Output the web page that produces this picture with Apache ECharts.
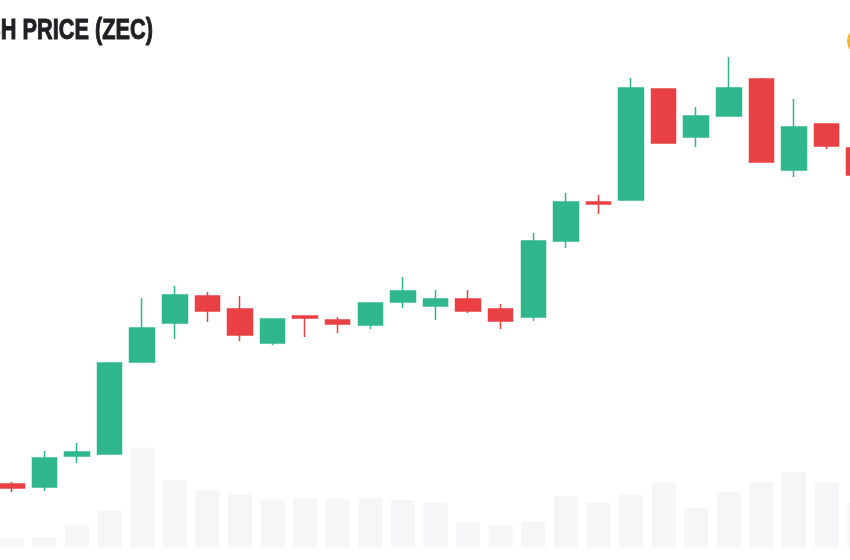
<!DOCTYPE html>
<html lang="en">
<head>
    <meta charset="UTF-8">
    <title>Zcash price (ZEC)</title>
    <script src="https://cdn.jsdelivr.net/npm/echarts@6/dist/echarts.min.js"></script>
</head>
<style>
    html, body { margin: 0; padding: 0; background: #fff; overflow: hidden; }
    #container { width: 850px; height: 560px; }
</style>
<body>
<div id="container"></div>
<script>
    // values are in the picture's own units, the price scale is not shown
    var days = ['D1', 'D2', 'D3', 'D4', 'D5', 'D6', 'D7', 'D8', 'D9', 'D10', 'D11', 'D12', 'D13', 'D14',
        'D15', 'D16', 'D17', 'D18', 'D19', 'D20', 'D21', 'D22', 'D23', 'D24', 'D25', 'D26', 'D27'];
    var open = [76, 73, 104, 106, 198, 237, 264, 251, 217, 244, 240, 235, 258, 254, 261, 251, 243, 319, 358, 360, 471, 423, 444, 481, 390, 436, 412];
    var close = [72, 102, 108, 197, 232, 265, 249, 225, 241, 242, 236, 257, 269, 261, 249, 239, 319, 358, 356, 472, 417, 444, 472, 398, 433, 414, 385];
    var low = [68, 69, 97, 106, 198, 221, 238, 219, 215, 223, 227, 231, 252, 240, 247, 231, 239, 312, 346, 360, 417, 413, 444, 398, 383, 411, 385];
    var high = [78, 109, 117, 197, 262, 274, 268, 264, 241, 244, 243, 257, 283, 270, 270, 256, 327, 367, 365, 482, 471, 453, 503, 482, 461, 436, 412];
    var volume = [8.5, 10.5, 23, 37, 100, 67.5, 57.5, 53, 48, 49, 48.5, 49.5, 47.5, 45, 24.5, 22.5, 26, 51.5, 45, 52.5, 64.5, 39.5, 55.5, 65.5, 75.5, 64.5, 44.5];
    var upColor = '#2fb68d';
    var downColor = '#e94044';
    var volumeColor = '#f6f6f9';

    var chart = echarts.init(document.getElementById('container'));

    var candles = [];
    for (var j = 0; j < days.length; j++) {
        candles.push([open[j], close[j], low[j], high[j]]);
    }

    var option = {
        animation: false,
        backgroundColor: '#fff',
        // the title runs off the left edge in the reference
        graphic: [
            {
                type: 'text',
                x: 153,
                y: 16,
                scaleX: 0.75,
                style: {
                    text: 'ZCASH PRICE (ZEC)',
                    textAlign: 'right',
                    textVerticalAlign: 'top',
                    font: '900 29px "Liberation Sans", sans-serif',
                    fill: '#1f2024',
                    stroke: '#1f2024',
                    lineWidth: 1
                }
            },
            {
                type: 'circle',
                shape: {cx: 861, cy: 41, r: 14},
                style: {fill: '#f4b728'}
            }
        ],
        grid: [
            {left: -4.5, width: 880, top: 0, height: 560, outerBoundsMode: 'none'},
            {left: -4.5, width: 880, top: 447.5, height: 100, outerBoundsMode: 'none'}
        ],
        xAxis: [
            {type: 'category', data: days, gridIndex: 0, show: false},
            {type: 'category', data: days, gridIndex: 1, show: false}
        ],
        yAxis: [
            {type: 'value', gridIndex: 0, min: 0, max: 560, show: false},
            {type: 'value', gridIndex: 1, min: 0, max: 100, show: false}
        ],
        series: [
            {
                type: 'bar',
                xAxisIndex: 1,
                yAxisIndex: 1,
                data: volume,
                barWidth: 24,
                itemStyle: {color: volumeColor}
            },
            {
                type: 'candlestick',
                xAxisIndex: 0,
                yAxisIndex: 0,
                data: candles,
                barWidth: 25,
                itemStyle: {
                    color: upColor,
                    color0: downColor,
                    borderColor: upColor,
                    borderColor0: downColor,
                    borderWidth: 1.5
                }
            }
        ]
    };

    chart.setOption(option);
</script>
</body>
</html>
